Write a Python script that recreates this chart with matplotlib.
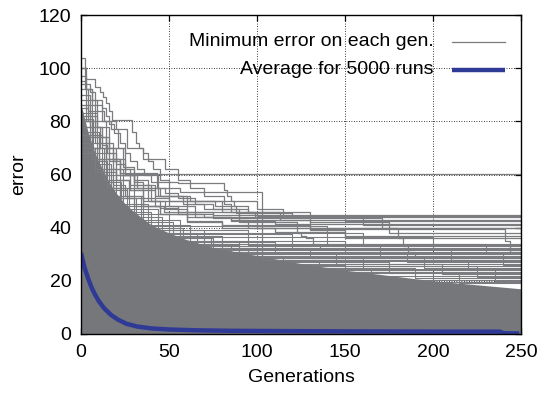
import matplotlib
matplotlib.use("Agg")
import matplotlib.pyplot as plt
import numpy as np

plt.rcParams['font.family'] = ['Liberation Sans', 'DejaVu Sans']

# ---- data ----
# solid core of overlapping runs (upper envelope)
core_gen = [0, 1, 2, 4, 6, 8, 10, 13, 16, 20, 25, 30, 35, 40, 50, 60, 75, 100, 125, 150, 175, 200, 225, 250]
core_top = [86, 84, 81, 76, 72, 68, 65, 61, 57, 53, 49, 46, 43.5, 41, 38, 35.5, 32.5, 29.5, 26.5, 24, 22, 20, 18.5, 17]

# individual visible runs above the core: (generations, minimum error), step-wise
run_a_gen = [0, 3, 6, 9, 13, 17, 21, 25, 250]
run_a_err = [97, 92, 88, 84, 80, 77, 70, 60.2, 60.2]
run_b_gen = [0, 2, 3, 8, 11, 12.5, 14, 16, 17.6, 28, 29, 31, 33, 35, 38, 41, 45, 50, 56, 103, 250]
run_b_err = [104, 100, 96, 93, 91, 89, 87, 84, 80.5, 80.5, 76, 72, 70, 68, 65, 62, 58, 55, 53.4, 28, 28]
run_c_gen = [0, 5, 8, 12, 14, 16, 19, 22, 25, 28, 32, 36, 40, 55, 81, 83, 85, 87, 88, 100, 250]
run_c_err = [94, 91, 88, 85, 82, 79, 75.6, 72, 68, 65, 62, 60, 57, 56.8, 54, 52, 50, 48, 45.5, 44.5, 44.5]
run_d_gen = [0, 5, 9, 12, 16, 20, 25, 30, 38, 45, 58, 70, 90, 171, 250]
run_d_err = [90, 82, 78, 74, 70, 66, 62, 58, 55, 52, 49, 47, 43.5, 40, 40]
run_e_gen = [0, 4, 8, 12, 15, 20, 25, 30, 35, 42, 50, 65, 100, 130, 241, 244, 250]
run_e_err = [85, 80, 75, 71, 68, 64, 60, 57, 54, 51, 48, 44, 41, 39.5, 35, 31, 31]
run_f_gen = [0, 5, 10, 16, 22, 30, 38, 48, 60, 75, 90, 123, 125, 128, 132, 136, 250]
run_f_err = [80, 75, 70, 65, 60, 55, 50, 47, 45, 43.5, 42, 38, 37, 36, 34, 32, 32]
run_g_gen = [0, 6, 10, 14, 20, 28, 35, 42, 55, 75, 250]
run_g_err = [78, 70, 66, 62, 58, 54, 51, 48, 46, 44.7, 44.7]
run_h_gen = [0, 5, 10, 15, 20, 27, 35, 45, 55, 70, 85, 250]
run_h_err = [75, 70, 65, 61, 58, 54, 50, 47.5, 45, 44, 43, 43]
run_i_gen = [0, 8, 13, 18, 26, 35, 47, 60, 85, 110, 250]
run_i_err = [70, 62, 58, 55, 51, 48, 46, 44, 42.5, 41.5, 41.5]
run_j_gen = [0, 6, 12, 18, 25, 35, 45, 60, 80, 110, 150, 250]
run_j_err = [72, 66, 60, 56, 52, 48, 45, 42.5, 40, 38.5, 37, 37]
run_k_gen = [0, 8, 15, 22, 30, 45, 60, 80, 100, 180, 183, 186, 190, 250]
run_k_err = [68, 61, 55, 51, 48, 45, 42, 41, 40, 36, 33, 31, 29, 29]
run_l_gen = [0, 3, 8, 14, 22, 40, 44, 60, 76, 95, 113, 130, 150, 250]
run_l_err = [88, 80, 72, 66, 60, 60, 52, 50, 48, 46, 43, 39, 36, 36]
run_m_gen = [0, 2, 6, 12, 20, 26, 35, 48, 55, 62, 70, 81, 85, 90, 95, 250]
run_m_err = [100, 92, 86, 80, 77, 70, 66, 62, 58, 55, 52, 49, 46, 43, 40, 38]
run_n_gen = [0, 4, 9, 16, 24, 30, 42, 62, 100, 115, 150, 250]
run_n_err = [92, 84, 78, 70, 63, 56, 52, 50, 47, 44, 42.5, 42.5]
run_o_gen = [0, 6, 14, 20, 32, 50, 80, 130, 175, 250]
run_o_err = [82, 74, 66, 60, 55, 50, 46, 42, 38, 38]
run_p_gen = [0, 5, 11, 18, 28, 40, 60, 99, 160, 250]
run_p_err = [86, 78, 70, 62, 56, 50, 46, 44, 41, 41]
run_q_gen = [0, 3, 8, 14, 18, 22, 43, 48, 55, 65, 75, 95, 120, 250]
run_q_err = [95, 88, 80, 72, 66, 60.5, 55, 53, 51, 49, 47, 45.5, 44, 43.8]

# runs that leave the core edge for a while before dropping back into it: level, generation of drop
stub_level = [86, 83, 81, 78, 76, 74, 72, 70, 68, 66, 64, 62, 60, 58, 57, 55, 54, 52, 51,
              49, 48, 47, 46, 45, 44, 43, 42, 41, 40, 39, 38, 37, 36, 35, 34, 33, 32]
stub_end = [6, 9, 7, 12, 10, 14, 16, 13, 18, 20, 17, 24, 22, 27, 23, 30, 26, 34, 31,
            38, 35, 44, 40, 50, 46, 56, 52, 62, 58, 70, 66, 80, 74, 90, 85, 100, 95]

# dense band of late-converging runs: level before drop, generation of drop, level after
band_hi = [40.5, 39, 38, 37.5, 36.5, 36, 35, 34.5, 34, 33.5, 33, 32.5, 32, 31.5, 31, 30.5,
           30, 29.5, 29, 28.5, 28, 27.5, 27, 26.5, 26, 25.5, 25, 24.5, 24, 23.5, 23]
band_drop = [140, 95, 160, 120, 200, 75, 150, 110, 230, 90, 170, 130, 210, 100, 185, 145,
             240, 115, 195, 160, 220, 135, 175, 205, 150, 225, 190, 165, 235, 200, 215]
band_lo = [34, 33.5, 33, 32.5, 32, 31.5, 31, 30.5, 30, 29.5, 29, 28.5, 28, 27.5, 27, 26.5,
           26, 25.5, 25, 24.5, 24, 23.5, 23, 22.5, 22, 21.5, 21, 20.5, 20, 19.5, 19]

# average over 5000 runs
avg_gen = [0, 2, 4, 6, 8, 10, 13, 17, 21, 26, 32, 40, 50, 65, 85, 110, 150, 200, 238, 240, 249]
avg_err = [30.5, 25, 21, 17.5, 14.8, 12.5, 9.8, 7.2, 5.4, 3.8, 2.8, 2.1, 1.7, 1.4, 1.2, 1.1, 1.0, 0.9, 0.9, 0.3, 0.2]

xticks = [0, 50, 100, 150, 200, 250]
yticks = [0, 20, 40, 60, 80, 100, 120]

# ---- drawing ----
GRAY = '#7b7c7f'
BLUE = '#2f3a96'

fig = plt.figure(figsize=(5.5, 3.97), dpi=100)
ax = fig.add_axes([81/550, 1-334/397, 440/550, 319/397])

for hi, g, lo in zip(band_hi, band_drop, band_lo):
    ax.plot([0, g, 250], [hi, lo, lo], drawstyle='steps-post', color=GRAY, lw=0.8, zorder=2)

for lev, end in zip(stub_level, stub_end):
    ax.plot([0, end, end], [lev, lev, 0], color=GRAY, lw=0.8, zorder=2)

ax.fill_between(core_gen, 0, core_top, color='#76777a', lw=0, zorder=3)

runs = [(run_a_gen, run_a_err), (run_b_gen, run_b_err), (run_c_gen, run_c_err),
        (run_d_gen, run_d_err), (run_e_gen, run_e_err), (run_f_gen, run_f_err),
        (run_g_gen, run_g_err), (run_h_gen, run_h_err), (run_i_gen, run_i_err),
        (run_j_gen, run_j_err), (run_k_gen, run_k_err), (run_l_gen, run_l_err),
        (run_m_gen, run_m_err), (run_n_gen, run_n_err), (run_o_gen, run_o_err),
        (run_p_gen, run_p_err), (run_q_gen, run_q_err)]
for g, e in runs:
    ax.plot(g, e, drawstyle='steps-post', color=GRAY, lw=0.9, zorder=4)

ax.plot(avg_gen, avg_err, color=BLUE, lw=3.2, zorder=6, solid_capstyle='butt')

ax.set_xlim(0, 250)
ax.set_ylim(0, 120)
ax.set_xticks(xticks)
ax.set_yticks(yticks)
ax.grid(True, color='black', linestyle=(0, (1, 2)), lw=0.6, zorder=1)
ax.set_axisbelow(True)
ax.tick_params(direction='in', top=True, right=True, length=4.5, width=0.9,
               labelsize=14, pad=7)
for s in ax.spines.values():
    s.set_linewidth(1.0)
    s.set_zorder(10)
ax.set_xlabel('Generations', fontsize=14, labelpad=6)
ax.set_ylabel('error', fontsize=14, labelpad=8)

# legend (gnuplot style: text right-aligned, sample on the right)
ax.text(0.802, 0.9154, 'Minimum error on each gen.', transform=ax.transAxes,
        ha='right', va='center', fontsize=14, zorder=11)
ax.plot([0.843, 0.9636], [0.9154, 0.9154], transform=ax.transAxes, color=GRAY, lw=0.9, zorder=11)
ax.text(0.802, 0.8276, 'Average for 5000 runs', transform=ax.transAxes,
        ha='right', va='center', fontsize=14, zorder=11)
ax.plot([0.843, 0.9636], [0.8276, 0.8276], transform=ax.transAxes, color=BLUE, lw=3.2, zorder=11,
        solid_capstyle='butt')

fig.savefig('out.png', dpi=100)
